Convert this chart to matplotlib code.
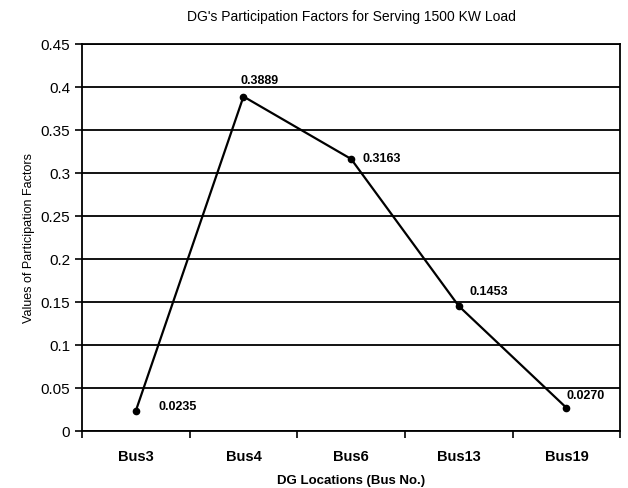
import numpy as np
import matplotlib
matplotlib.use("Agg")
import matplotlib.pyplot as plt

plt.rcParams['font.family'] = ['Liberation Sans', 'DejaVu Sans']

buses = ['Bus3', 'Bus4', 'Bus6', 'Bus13', 'Bus19']
factors = [0.0235, 0.3889, 0.3163, 0.1453, 0.0270]
labels = ['0.0235', '0.3889', '0.3163', '0.1453', '0.0270']
# label offsets in points
offsets = [(16, 3.5), (-2, 12), (8, 1), (8, 11), (0, 9)]

fig = plt.figure(figsize=(6.28, 4.89), dpi=100)
ax = fig.add_axes([0.1306, 0.1166, 0.857, 0.7914])

x = np.arange(len(buses))
ax.plot(x, factors, color='black', lw=1.6, marker='o', ms=4.5, zorder=3)

for xi, yi, lab, off in zip(x, factors, labels, offsets):
    ax.annotate(lab, (xi, yi), xytext=off, textcoords='offset points',
                fontsize=9, fontweight='bold', ha='left', va='center')

ax.set_xlim(-0.5, 4.5)
ax.set_ylim(0, 0.45)
ax.set_yticks(np.arange(0, 0.451, 0.05))
ax.set_yticklabels(['0', '0.05', '0.1', '0.15', '0.2', '0.25', '0.3', '0.35', '0.4', '0.45'])
ax.yaxis.grid(True, color='black', lw=1.3)
ax.set_axisbelow(True)

ax.set_xticks(x)
ax.set_xticklabels(buses, fontweight='bold')
ax.set_xticks(np.arange(-0.5, 4.6, 1), minor=True)
ax.tick_params(axis='x', which='major', length=0, pad=13, labelsize=10.5)
ax.tick_params(axis='x', which='minor', length=5, direction='out', width=1.2)
ax.tick_params(axis='y', length=5, width=1.2, labelsize=11)

for s in ax.spines.values():
    s.set_linewidth(1.3)

ax.set_xlabel('DG Locations (Bus No.)', fontsize=9.5, fontweight='bold', labelpad=8)
ax.set_ylabel('Values of Participation Factors', fontsize=9, labelpad=4)
ax.set_title("DG's Participation Factors for Serving 1500 KW Load", fontsize=10, pad=17)

fig.savefig('out.png', dpi=100)
